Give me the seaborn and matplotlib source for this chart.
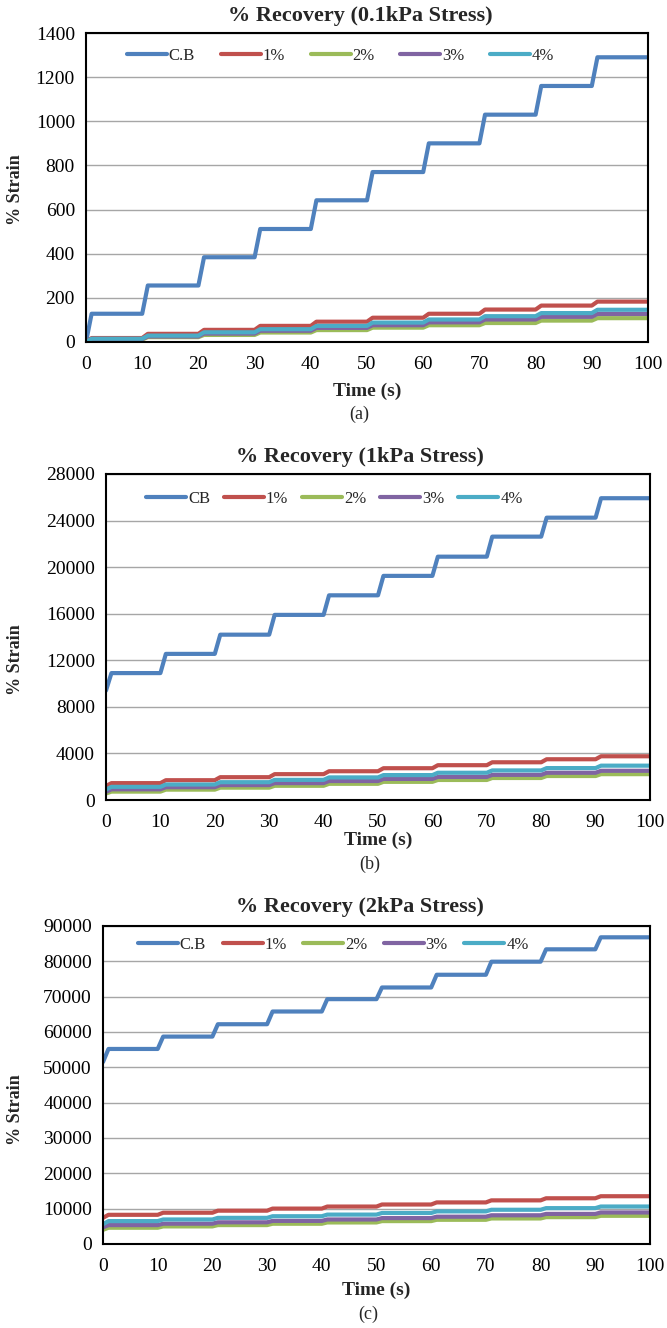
import numpy as np
import pandas as pd
import matplotlib
matplotlib.use("Agg")
import matplotlib.pyplot as plt
import seaborn as sns

# ---- data -----------------------------------------------------------------
# Strain level reached after each 10 s creep/recovery cycle (10 cycles),
# plus the value at t = 0 for every series.
cycle_start = np.arange(0, 100, 10)   # 0, 10, ..., 90 s

# (a) 0.1 kPa
a_labels = ["C.B", "1%", "2%", "3%", "4%"]
a_t0 = [0, 0, 0, 0, 0]
a_cb = [128, 256, 384, 512, 642, 770, 900, 1030, 1160, 1290]
a_1 = [18, 37, 55, 73, 92, 110, 128, 147, 165, 183]
a_2 = [11, 22, 32, 43, 54, 65, 76, 86, 97, 108]
a_3 = [13, 25, 38, 51, 64, 76, 89, 102, 114, 127]
a_4 = [15, 29, 44, 58, 73, 88, 102, 117, 131, 146]

# (b) 1 kPa
b_labels = ["CB", "1%", "2%", "3%", "4%"]
b_t0 = [9400, 1200, 560, 700, 900]
b_cb = [10900, 12550, 14200, 15900, 17580, 19250, 20900, 22620, 24250, 25920]
b_1 = [1450, 1700, 1960, 2220, 2470, 2730, 2990, 3240, 3500, 3755]
b_2 = [720, 890, 1060, 1220, 1390, 1560, 1720, 1890, 2060, 2220]
b_3 = [920, 1100, 1280, 1450, 1630, 1810, 1980, 2160, 2340, 2510]
b_4 = [1130, 1330, 1530, 1730, 1940, 2140, 2340, 2540, 2740, 2950]

# (c) 2 kPa
c_labels = ["C.B", "1%", "2%", "3%", "4%"]
c_t0 = [51500, 7400, 4000, 4700, 5600]
c_cb = [55200, 58700, 62200, 65800, 69300, 72600, 76200, 79900, 83400, 86800]
c_1 = [8260, 8850, 9430, 10020, 10600, 11180, 11770, 12350, 12940, 13520]
c_2 = [4600, 4980, 5350, 5730, 6100, 6480, 6850, 7230, 7600, 7980]
c_3 = [5350, 5750, 6140, 6540, 6940, 7330, 7730, 8130, 8520, 8920]
c_4 = [6480, 6940, 7400, 7860, 8320, 8780, 9230, 9690, 10150, 10610]

colors = ["#4F81BD", "#C0504D", "#9BBB59", "#8064A2", "#4BACC6"]


def step_frame(labels, t0, levels):
    """Long-form table of the stepped strain curves (1 s rise per cycle)."""
    rows = []
    for lab, start, lev in zip(labels, t0, levels):
        t = [0.0]
        v = [start]
        for cs, L in zip(cycle_start, lev):
            t += [cs + 1, cs + 10]
            v += [L, L]
        for ti, vi in zip(t, v):
            rows.append({"Time": ti, "Strain": vi, "Series": lab})
    return pd.DataFrame(rows)


panels = [
    dict(title="% Recovery (0.1kPa Stress)", labels=a_labels, t0=a_t0,
         levels=[a_cb, a_1, a_2, a_3, a_4], ymax=1400, ystep=200,
         box=(86, 648, 33, 342), leg=(0.073, 0.926), colsp=1.55,
         title_y=16, xlab_y=391, cap="(a)", cap_y=414, ylab_y=190),
    dict(title="% Recovery (1kPa Stress)", labels=b_labels, t0=b_t0,
         levels=[b_cb, b_1, b_2, b_3, b_4], ymax=28000, ystep=4000,
         box=(106, 650, 474, 800), leg=(0.074, 0.923), colsp=0.85,
         title_y=457, xlab_y=840, cap="(b)", cap_y=864, ylab_y=660),
    dict(title="% Recovery (2kPa Stress)", labels=c_labels, t0=c_t0,
         levels=[c_cb, c_1, c_2, c_3, c_4], ymax=90000, ystep=10000,
         box=(103, 650, 926, 1244), leg=(0.064, 0.94), colsp=1.0,
         title_y=907, xlab_y=1290, cap="(c)", cap_y=1314, ylab_y=1110),
]

sns.set_theme(style="white")
plt.rcParams["font.family"] = ["Liberation Serif", "DejaVu Serif"]

W, H = 667, 1328
fig = plt.figure(figsize=(W / 100, H / 100), dpi=100)


def fx(px):
    return px / W


def fy(py):
    return 1 - py / H


for p in panels:
    l, r, t, b = p["box"]
    ax = fig.add_axes([fx(l), fy(b), fx(r) - fx(l), fy(t) - fy(b)])
    df = step_frame(p["labels"], p["t0"], p["levels"])
    sns.lineplot(data=df, x="Time", y="Strain", hue="Series",
                 hue_order=p["labels"], palette=colors, estimator=None,
                 sort=False, linewidth=3.0, ax=ax)
    ax.set_xlim(0, 100)
    ax.set_ylim(0, p["ymax"])
    ax.set_xticks(np.arange(0, 101, 10))
    ax.set_yticks(np.arange(0, p["ymax"] + 1, p["ystep"]))
    ax.yaxis.grid(True, color="#A6A6A6", linewidth=1.0)
    ax.xaxis.grid(False)
    ax.set_axisbelow(True)
    for s in ax.spines.values():
        s.set_color("black")
        s.set_linewidth(1.5)
    ax.tick_params(axis="both", length=0, labelsize=14, colors="black")
    ax.tick_params(axis="x", pad=10)
    ax.tick_params(axis="y", pad=8)
    ax.set_xlabel("")
    ax.set_ylabel("")

    handles, labs = ax.get_legend_handles_labels()
    ax.legend(handles, labs, loc="center left", bbox_to_anchor=p["leg"],
              ncol=5, frameon=False, fontsize=12, handlelength=2.4,
              handletextpad=0.1, columnspacing=p["colsp"], borderaxespad=0,
              borderpad=0)

    cx = (l + r) / 2
    fig.text(fx(360), fy(p["title_y"]), p["title"], ha="center",
             va="center", fontsize=16, fontweight="bold")
    fig.text(fx(cx), fy(p["xlab_y"]), "Time (s)", ha="center", va="center",
             fontsize=14, fontweight="bold")
    fig.text(fx(cx - 8), fy(p["cap_y"]), p["cap"], ha="center", va="center",
             fontsize=13)
    fig.text(fx(15), fy(p["ylab_y"]), "% Strain", ha="center", va="center",
             rotation=90, fontsize=13, fontweight="bold")

fig.savefig("out.png", dpi=100, facecolor="white")
